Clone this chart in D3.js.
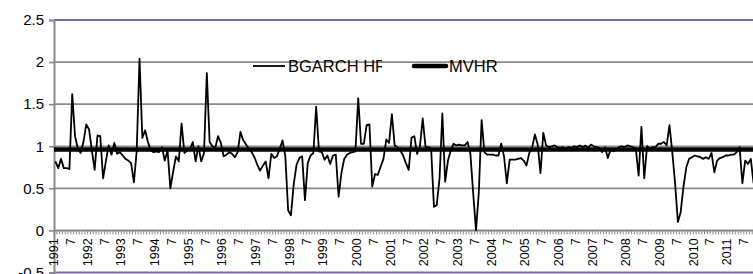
<!DOCTYPE html>
<html>
<head>
<meta charset="utf-8">
<script src="https://cdn.jsdelivr.net/npm/d3@7"></script>
<style>
  body { margin: 0; background: #fff; }
  svg { display: block; font-family: "Liberation Sans", Arial, sans-serif; }
</style>
</head>
<body>
<div id="chart"></div>
<script>
// monthly hedge ratios, Jan 1991 onward
const startYear = 1991;
const hrValues = [
  0.82, 0.74, 0.85, 0.74, 0.74, 0.73, 1.62, 1.12, 0.97, 0.92, 1.05, 1.26, // 1991
  1.20, 0.95, 0.72, 1.13, 1.12, 0.62, 0.82, 1.01, 0.90, 1.04, 0.91, 0.93, // 1992
  0.89, 0.85, 0.83, 0.80, 0.57, 0.95, 2.04, 1.10, 1.19, 1.05, 0.95, 0.93, // 1993
  0.94, 0.93, 0.99, 0.83, 0.95, 0.50, 0.70, 0.88, 0.82, 1.27, 0.92, 0.95, // 1994
  0.97, 1.05, 0.82, 1.00, 0.82, 0.92, 1.87, 1.05, 1.00, 0.98, 1.12, 1.04, // 1995
  0.88, 0.90, 0.93, 0.91, 0.87, 0.93, 1.17, 1.07, 1.02, 0.97, 0.93, 0.87, // 1996
  0.78, 0.71, 0.77, 0.82, 0.62, 0.91, 0.86, 0.88, 0.97, 1.07, 0.88, 0.24, // 1997
  0.18, 0.55, 0.78, 0.86, 0.88, 0.36, 0.80, 0.89, 0.92, 1.47, 0.94, 0.93, // 1998
  0.84, 0.89, 0.79, 0.89, 0.90, 0.40, 0.68, 0.85, 0.90, 0.92, 0.93, 0.94, // 1999
  1.57, 1.03, 1.03, 1.25, 1.26, 0.52, 0.67, 0.66, 0.76, 0.85, 1.08, 1.04, // 2000
  1.38, 1.01, 0.99, 0.95, 0.89, 0.80, 0.72, 1.10, 1.12, 0.91, 1.00, 1.33, // 2001
  0.99, 0.99, 0.97, 0.28, 0.30, 0.62, 1.39, 0.58, 0.83, 0.95, 1.03, 1.01, // 2002
  1.02, 1.01, 1.01, 1.05, 0.91, 0.44, 0.00, 0.45, 1.31, 0.93, 0.90, 0.90, // 2003
  0.90, 0.89, 0.89, 1.03, 0.88, 0.56, 0.84, 0.84, 0.84, 0.85, 0.86, 0.83, // 2004
  0.77, 0.92, 0.98, 1.14, 1.02, 0.68, 1.16, 1.01, 0.99, 1.00, 1.01, 0.99, // 2005
  0.98, 0.99, 0.97, 0.99, 0.98, 1.00, 0.99, 1.01, 0.99, 1.01, 0.98, 1.02, // 2006
  1.00, 0.99, 0.98, 0.93, 0.99, 0.86, 0.96, 0.94, 0.96, 0.99, 1.00, 0.99, // 2007
  1.01, 1.00, 0.99, 0.97, 0.65, 1.23, 0.62, 1.00, 0.97, 0.99, 0.99, 1.03, // 2008
  1.03, 1.05, 1.01, 1.25, 0.93, 0.56, 0.10, 0.22, 0.52, 0.75, 0.85, 0.87, // 2009
  0.89, 0.88, 0.87, 0.85, 0.87, 0.85, 0.92, 0.69, 0.83, 0.86, 0.87, 0.89, // 2010
  0.89, 0.90, 0.90, 0.93, 0.99, 0.56, 0.83, 0.79, 0.85, 0.56              // 2011
];
const mvhrValue = 0.96;
const yTicks = [-0.5, 0, 0.5, 1, 1.5, 2, 2.5];
const seriesNames = ["BGARCH HR", "MVHR"];

const width = 753, height = 274;
const left = 54, step = 2.804;
const gridColor = "#8a8a8a", edgeColor = "#8064a2";

const months = hrValues.map((v, i) => i);
const monthLabel = i => i % 12 === 0 ? String(startYear + i / 12) : (i % 12 === 6 ? "7" : "");

const x = d3.scaleBand().domain(months).range([left, left + months.length * step]);
const y = d3.scaleLinear().domain([-0.5, 2.5]).range([272.5, 20]);

const svg = d3.select("#chart").append("svg")
    .attr("width", width)
    .attr("height", height);

// gridlines (top and bottom ones are purple in the original)
svg.append("g").selectAll("line")
    .data(yTicks.filter(t => t !== 0))
    .enter().append("line")
    .attr("x1", left).attr("x2", width)
    .attr("y1", d => y(d)).attr("y2", d => y(d))
    .attr("stroke", d => (d === 2.5 || d === -0.5) ? edgeColor : gridColor)
    .attr("stroke-width", d => (d === 2.5 || d === -0.5) ? 2 : 1.6);

// y axis
const yAxis = svg.append("g").attr("transform", `translate(${left},0)`)
    .call(d3.axisLeft(y).tickValues(yTicks).tickSize(5).tickPadding(5).tickFormat(d => d));
yAxis.select(".domain").attr("stroke", gridColor).attr("stroke-width", 2);
yAxis.selectAll(".tick line").attr("stroke", gridColor).attr("stroke-width", 1.6);
yAxis.selectAll(".tick text")
    .attr("font-size", 15)
    .attr("fill", "#000")
    .attr("font-family", "Liberation Sans, Arial, sans-serif");

// x axis at zero, a tick for every month
const xAxis = svg.append("g").attr("transform", `translate(0,${y(0)})`);
xAxis.append("line")
    .attr("x1", left).attr("x2", width)
    .attr("stroke", gridColor).attr("stroke-width", 2);
xAxis.selectAll(".mtick")
    .data(months)
    .enter().append("line")
    .attr("class", "mtick")
    .attr("x1", d => x(d)).attr("x2", d => x(d))
    .attr("y1", 0).attr("y2", 4)
    .attr("stroke", gridColor).attr("stroke-width", 1);
xAxis.selectAll(".mlabel")
    .data(months.filter(d => monthLabel(d) !== ""))
    .enter().append("text")
    .attr("class", "mlabel")
    .attr("transform", d => `translate(${x(d) + x.bandwidth() / 2 - 1.2},8) rotate(-90)`)
    .attr("text-anchor", "end")
    .attr("dominant-baseline", "central")
    .attr("font-size", 12.5)
    .attr("fill", "#000")
    .text(d => monthLabel(d));

// MVHR constant line
svg.append("line")
    .attr("x1", left).attr("x2", width)
    .attr("y1", y(mvhrValue)).attr("y2", y(mvhrValue))
    .attr("stroke", "#000").attr("stroke-width", 4.5);

// BGARCH HR series
const line = d3.line()
    .x((d, i) => x(i) + x.bandwidth() / 2)
    .y(d => y(d));

svg.append("path")
    .datum(hrValues)
    .attr("fill", "none")
    .attr("stroke", "#000")
    .attr("stroke-width", 1.8)
    .attr("stroke-linejoin", "round")
    .attr("d", line);

// legend
svg.append("clipPath").attr("id", "legclip")
    .append("rect").attr("x", 286).attr("y", 50).attr("width", 96).attr("height", 30);

const leg = svg.append("g");
leg.append("line")
    .attr("x1", 253).attr("x2", 285).attr("y1", 66).attr("y2", 66)
    .attr("stroke", "#000").attr("stroke-width", 1.8);
leg.append("text")
    .attr("x", 288).attr("y", 72)
    .attr("font-size", 16.5)
    .attr("clip-path", "url(#legclip)")
    .text(seriesNames[0]);
leg.append("line")
    .attr("x1", 414).attr("x2", 446).attr("y1", 66).attr("y2", 66)
    .attr("stroke", "#000").attr("stroke-width", 4.5).attr("stroke-linecap", "round");
leg.append("text")
    .attr("x", 449).attr("y", 72)
    .attr("font-size", 16.5)
    .text(seriesNames[1]);
</script>
</body>
</html>
